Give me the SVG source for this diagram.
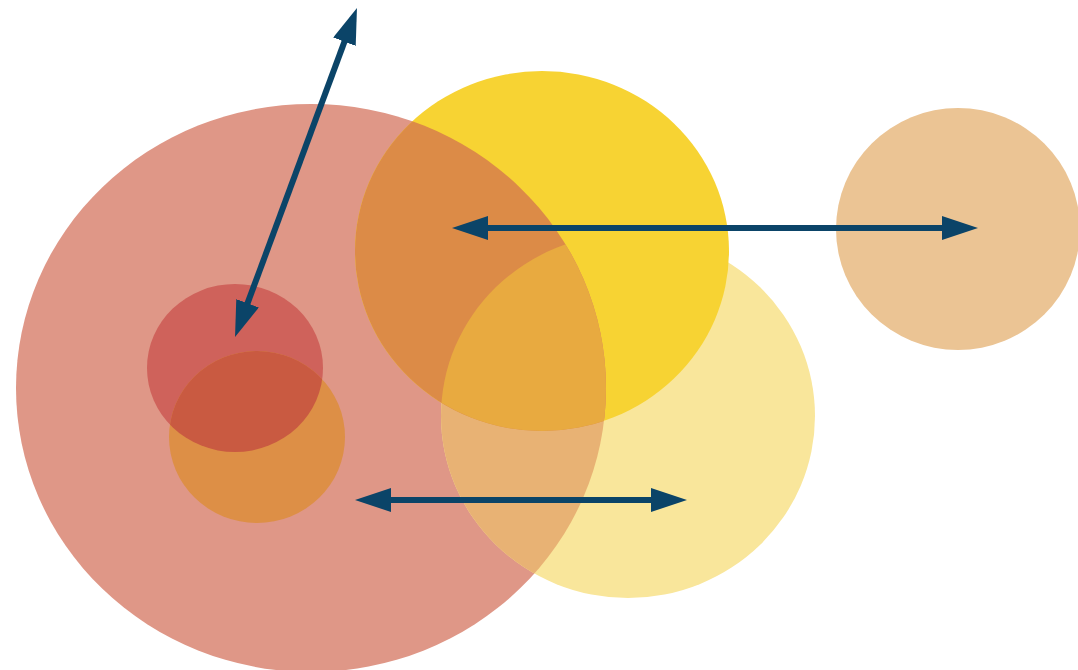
<svg xmlns="http://www.w3.org/2000/svg" width="1078" height="670" viewBox="0 0 1078 670">
  <style>
    .arrow { fill: none; stroke: #0B4468; stroke-width: 6; marker-start: url(#head); marker-end: url(#head); }
  </style>
  <defs>
    <marker id="head" markerUnits="userSpaceOnUse" markerWidth="36" markerHeight="24" refX="3" refY="12" orient="auto-start-reverse" viewBox="0 0 36 24">
      <path d="M0,0 L36,12 L0,24 z" fill="#0B4468"/>
    </marker>
    <clipPath id="cBig"><ellipse cx="311" cy="388" rx="295" ry="284"/></clipPath>
    <clipPath id="cYellow"><ellipse cx="542" cy="251" rx="187" ry="180"/></clipPath>
    <clipPath id="cLight"><ellipse cx="628" cy="416" rx="187" ry="182"/></clipPath>
    <clipPath id="cRed"><ellipse cx="235" cy="368" rx="88" ry="84"/></clipPath>
  </defs>
  <rect width="1078" height="670" fill="#FFFFFF"/>

  <g id="big-circle"><ellipse cx="311" cy="388" rx="295" ry="284" fill="#DF9787"/></g>
  <g id="light-yellow-circle"><ellipse cx="628" cy="416" rx="187" ry="182" fill="#F9E69B"/></g>
  <g id="yellow-circle"><ellipse cx="542" cy="251" rx="187" ry="180" fill="#F7D333"/></g>
  <g id="tan-circle"><ellipse cx="958" cy="229" rx="122" ry="121" fill="#EBC494"/></g>
  <g id="red-circle"><ellipse cx="235" cy="368" rx="88" ry="84" fill="#CF625B"/></g>
  <g id="orange-circle"><ellipse cx="257" cy="437" rx="88" ry="86" fill="#DD8F46"/></g>

  <g id="overlaps">
    <ellipse cx="628" cy="416" rx="187" ry="182" fill="#E8B274" clip-path="url(#cBig)"/>
    <ellipse cx="542" cy="251" rx="187" ry="180" fill="#DC8B47" clip-path="url(#cBig)"/>
    <g clip-path="url(#cBig)">
      <ellipse cx="542" cy="251" rx="187" ry="180" fill="#E8AA40" clip-path="url(#cLight)"/>
    </g>
    <ellipse cx="257" cy="437" rx="88" ry="86" fill="#C95A41" clip-path="url(#cRed)"/>
  </g>

  <g id="connectors">
    <path class="arrow" d="M345.5,38.9 L246.5,306.1"/>
    <path class="arrow" d="M485,228 L945,228"/>
    <path class="arrow" d="M388,500 L654,500"/>
  </g>
</svg>
